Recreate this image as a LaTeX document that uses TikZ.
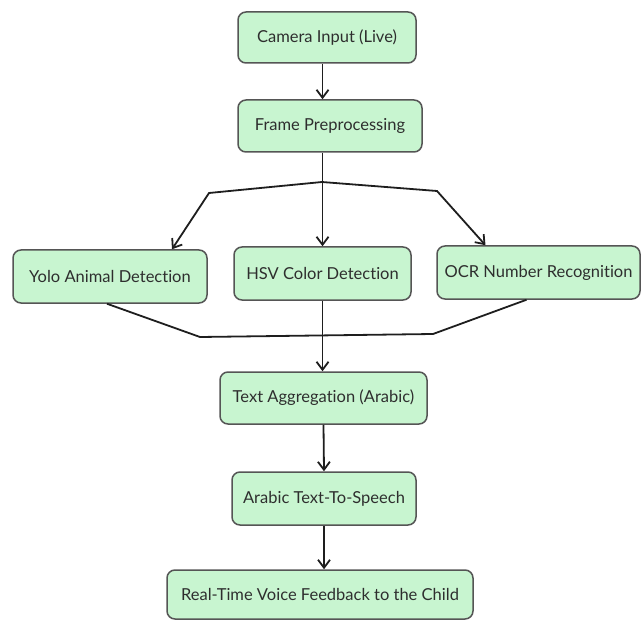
\documentclass[tikz,border=0pt]{standalone}
\usepackage{fontspec}
\setmainfont{Lato}[Ligatures={NoCommon, NoRequired, NoContextual}]
\usetikzlibrary{arrows.meta}
\definecolor{mintbox}{RGB}{200, 245, 208}
\definecolor{edgegray}{RGB}{85, 85, 85}
\definecolor{inkline}{RGB}{30, 30, 30}

\begin{document}
\begin{tikzpicture}[x=1pt, y=-1pt,
    box/.style={draw=edgegray, fill=mintbox, line width=1.5pt, rounded corners=8pt,
                inner sep=0pt, text=black!82, font=\fontsize{16.5}{18}\selectfont},
    arr/.style={draw=inkline, line width=1.8pt, -{Straight Barb[length=8pt, width=12pt]}},
    link/.style={draw=inkline, line width=1.8pt}]
            % Frame to ensure alignment
            \useasboundingbox (0, 0) rectangle (642, 620);
            % Input stage
            \node[box, minimum width=178pt, minimum height=51pt] (cam)   at (327.0,  37.5) {Camera Input (Live)};
            \node[box, minimum width=184pt, minimum height=52pt] (frame) at (330.0, 126.0) {Frame Preprocessing};
            % Detectors
            \node[box, minimum width=194pt, minimum height=53pt] (yolo)  at (110.0, 276.5) {Yolo Animal Detection};
            \node[box, minimum width=177pt, minimum height=53pt] (hsv)   at (322.5, 273.5) {HSV Color Detection};
            \node[box, minimum width=203pt, minimum height=53pt] (ocr)   at (538.5, 272.5) {OCR Number Recognition};
            % Output stage
            \node[box, minimum width=207pt, minimum height=52pt] (agg)   at (323.5, 398.0) {Text Aggregation (Arabic)};
            \node[box, minimum width=184pt, minimum height=53pt] (tts)   at (324.0, 498.5) {Arabic Text-To-Speech};
            \node[box, minimum width=306pt, minimum height=49pt] (voice) at (320.0, 594.5) {Real-Time Voice Feedback to the Child};
            % Split & merge points
            \coordinate (split)  at (322, 182);
            \coordinate (lbend)  at (209, 193);
            \coordinate (rbend)  at (437, 191);
            \coordinate (lmerge) at (200, 337);
            \coordinate (rmerge) at (433, 334);
            % Connectors
            \draw[arr]  (cam.south -| hsv.north) -- (frame.north -| hsv.north);
            \draw[arr]  (frame.south -| hsv.north) -- (hsv.north);
            \draw[arr]  (split) -- (lbend) -- ([xshift=62pt]yolo.north);
            \draw[arr]  (split) -- (rbend) -- ([xshift=-53pt]ocr.north);
            \draw[link] ([xshift=-3pt]yolo.south) -- (lmerge) -- (rmerge) -- ([xshift=-12pt]ocr.south);
            \draw[arr]  (hsv.south) -- (hsv.south |- agg.north);
            \draw[arr]  (agg.south) -- (tts.north);
            \draw[arr]  (tts.south) -- (tts.south |- voice.north);
\end{tikzpicture}
\end{document}
